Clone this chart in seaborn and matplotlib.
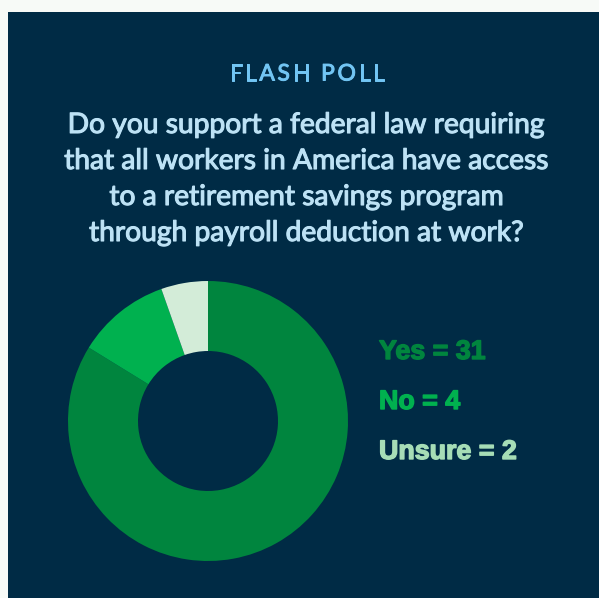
import matplotlib
matplotlib.use("Agg")
import matplotlib.pyplot as plt
import matplotlib.patheffects as pe
import seaborn as sns
from matplotlib.patches import Rectangle

sns.set_theme(style="white")
plt.rcParams["font.family"] = ["Lato", "DejaVu Sans"]

# Poll results
answers = ["Yes", "No", "Unsure"]
counts = [31, 4, 2]
slice_colors = ["#00853e", "#00b14f", "#d3ecd8"]
label_colors = ["#00853e", "#00b14f", "#a6ddb6"]

kicker = "FLASH POLL"
question_lines = [
    "Do you support a federal law requiring",
    "that all workers in America have access",
    "to a retirement savings program",
    "through payroll deduction at work?",
]

W, H = 599, 598
NAVY = "#002b45"


def heavier(color, lw):
    # Thicken glyphs slightly with a same-colour outline
    return [pe.Stroke(linewidth=lw, foreground=color), pe.Normal()]


fig = plt.figure(figsize=(W / 100, H / 100), dpi=100)
fig.patch.set_facecolor("#f7faf7")

# Dark card behind everything
bg = fig.add_axes([8 / W, 0, 1 - 8 / W, 1 - 12 / H], zorder=-5)
bg.set_facecolor(NAVY)
bg.set_axis_off()
bg.add_patch(Rectangle((0, 0), 1, 1, transform=bg.transAxes,
                       facecolor=NAVY, edgecolor="none"))

# Kicker with letter spacing
renderer = fig.canvas.get_renderer()
kick_size = 16.5
kick_color = "#72c5f3"
tracking = 2.6  # px between letters
widths = []
for ch in kicker:
    t = fig.text(0, 0, ch if ch != " " else "n", fontsize=kick_size)
    w = t.get_window_extent(renderer).width
    if ch == " ":
        w *= 0.45
    widths.append(w)
    t.remove()
total = sum(widths) + tracking * (len(kicker) - 1)
x = 307 - total / 2
for ch, w in zip(kicker, widths):
    if ch != " ":
        fig.text(x / W, 1 - 74 / H, ch, ha="left", va="center",
                 color=kick_color, fontsize=kick_size,
                 path_effects=heavier(kick_color, 0.7))
    x += w + tracking

# Question
q_color = "#bde2f5"
for i, line in enumerate(question_lines):
    fig.text(307 / W, 1 - (125 + i * 36) / H, line, ha="center", va="center",
             color=q_color, fontsize=20.3,
             path_effects=heavier(q_color, 0.8))

# Donut
cx, cy, r = 208, 421, 140
ax = fig.add_axes([(cx - r) / W, (H - cy - r) / H, 2 * r / W, 2 * r / H],
                  zorder=2)
ax.set_facecolor("none")
ax.pie(counts, colors=slice_colors, startangle=90, counterclock=False,
       radius=1.0, wedgeprops=dict(width=0.5, edgecolor="none"))
ax.set_xlim(-1, 1)
ax.set_ylim(-1, 1)
ax.set_axis_off()

# Result labels
for i, (a, c) in enumerate(zip(answers, counts)):
    fig.text(379 / W, 1 - (352 + i * 50) / H, f"{a} = {c}", ha="left",
             va="center", color=label_colors[i], fontsize=19.3,
             fontweight="bold", fontfamily=["Liberation Sans", "DejaVu Sans"],
             path_effects=heavier(label_colors[i], 1.0))

fig.savefig("out.png", dpi=100, facecolor=fig.get_facecolor())
